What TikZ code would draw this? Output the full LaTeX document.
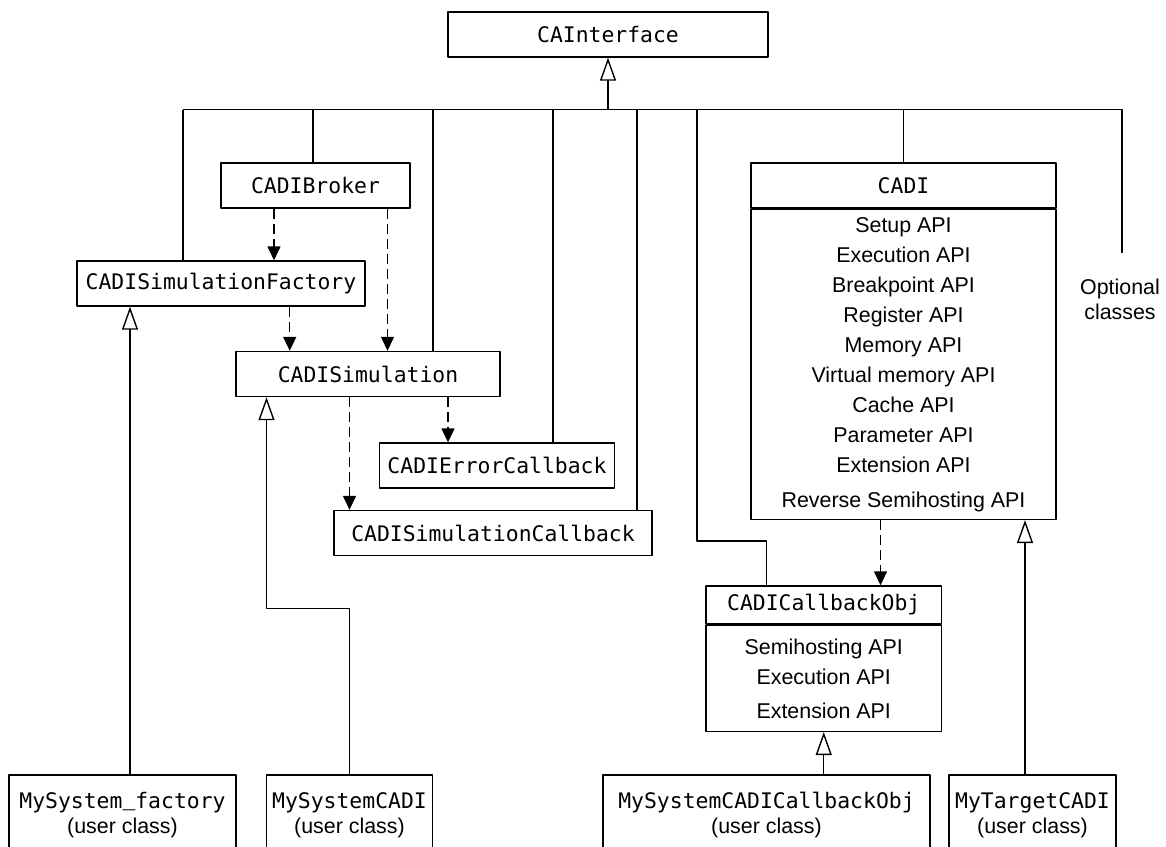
\documentclass[tikz,border=0pt]{standalone}
\usepackage{fontspec}
\setmainfont{Liberation Sans}
\setmonofont{DejaVu Sans Mono}
\newfontfamily\uscfont{Liberation Mono}
\usetikzlibrary{arrows.meta}
\begin{document}
\begin{tikzpicture}[x=0.5pt,y=-0.5pt,line join=round,line width=0.7pt,
		cls/.style={draw,font=\fontsize{10.7}{12.5}\selectfont\ttfamily,inner sep=0pt,minimum height=22.5pt},
		api/.style={font=\fontsize{10.7}{15}\selectfont,align=center},
		usr/.style={cls,minimum height=40pt,align=center},
		inh/.style={-{Triangle[open,length=11.5pt,width=8pt]}},
		dep/.style={dash pattern=on 5pt off 2.5pt,-{Triangle[length=7pt,width=6.5pt]}}]
			\useasboundingbox (0,0) rectangle (1166,846);
			\node[cls,minimum width=160pt] (iface) at (608,34.5) {CAInterface};
			\node[cls,minimum width=94.5pt] (broker) at (315.5,185.5) {CADIBroker};
			\node[cls,minimum width=144pt] (factory) at (221,283.5) {CADISimulationFactory};
			\node[cls,minimum width=132pt] (sim) at (368,374) {CADISimulation};
			\node[cls,minimum width=117.5pt] (errcb) at (497,465.5) {CADIErrorCallback};
			\node[cls,minimum width=159pt] (simcb) at (493,533) {CADISimulationCallback};
			\node[cls,minimum width=152.5pt] (cadi) at (903.5,185.5) {CADI};
			\node[cls,api,minimum width=152.5pt,minimum height=155pt,anchor=north] (cadiapi) at (cadi.south)
				{Setup API\\Execution API\\Breakpoint API\\Register API\\Memory API\\Virtual memory API\\Cache API\\Parameter API\\Extension API\\[2.5pt]Reverse Semihosting API};
			\node[cls,minimum width=117.75pt,minimum height=19pt] (cbobj) at (823.75,605) {CADICallbackObj};
			\node[cls,api,minimum width=117.75pt,minimum height=53pt,anchor=north] (cbapi) at (cbobj.south)
				{Semihosting API\\Execution API\\[2pt]Extension API};
			\node[usr,minimum width=113.5pt] (myfactory) at (122.5,815) {MySystem{\uscfont\_}factory\\{\rmfamily(user class)}};
			\node[usr,minimum width=83pt] (mysyscadi) at (349.5,815) {MySystemCADI\\{\rmfamily(user class)}};
			\node[usr,minimum width=163.5pt] (mycbobj) at (766.5,815) {MySystemCADICallbackObj\\{\rmfamily(user class)}};
			\node[usr,minimum width=83.5pt] (mytarget) at (1032.5,815) {MyTargetCADI\\{\rmfamily(user class)}};
			\node[align=center,font=\fontsize{10.7}{12.5}\selectfont] (opt) at (1120,299.5) {Optional\\classes};
			\coordinate (busL) at (183,109.5);
			\coordinate (busR) at (1122,109.5);
			\coordinate (optEnd) at (1122,253);
			\draw (busL) -- (busR) -- (optEnd);
			\draw[inh] (iface.south |- busL) -- (iface.south);
			\foreach \x/\n in {183/factory,313/broker,433/sim,553/errcb,637/simcb,903.5/cadi}
				\draw (\x,109.5) -- (\x,0 |- \n.north);
			\draw (697,109.5) |- (766.7,541) -- (766.7,0 |- cbobj.north);
			\draw[dep] (274,0 |- broker.south) -- (274,0 |- factory.north);
			\draw[dep] (387.5,0 |- broker.south) -- (387.5,0 |- sim.north);
			\draw[dep] (289.7,0 |- factory.south) -- (289.7,0 |- sim.north);
			\draw[dep] (349.5,0 |- sim.south) -- (349.5,0 |- simcb.north);
			\draw[dep] (448,0 |- sim.south) -- (448,0 |- errcb.north);
			\draw[dep] (880.5,0 |- cadiapi.south) -- (880.5,0 |- cbobj.north);
			\draw[inh] (130,0 |- myfactory.north) -- (130,0 |- factory.south);
			\draw[inh] (mysyscadi.north) |- (266.5,608.7) -- (266.5,0 |- sim.south);
			\draw[inh] (cbapi.south |- mycbobj.north) -- (cbapi.south);
			\draw[inh] (1025,0 |- mytarget.north) -- (1025,0 |- cadiapi.south);
		\end{tikzpicture}
\end{document}
